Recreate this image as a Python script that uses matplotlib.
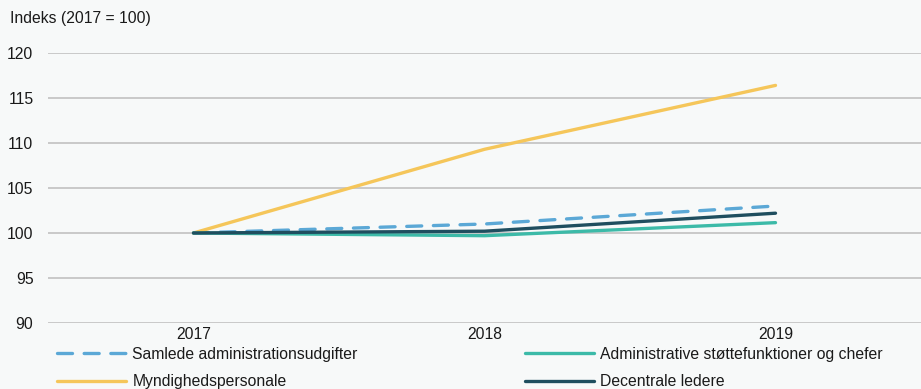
import matplotlib.pyplot as plt

plt.rcParams['font.family'] = ['Liberation Sans', 'DejaVu Sans']

years = ['2017', '2018', '2019']
samlede = [100.0, 101.0, 103.0]
myndighed = [100.0, 109.3, 116.4]
admin_stotte = [100.0, 99.7, 101.15]
decentrale = [100.0, 100.2, 102.2]

bg = '#f7f9f9'
fs = 11.3
fig = plt.figure(figsize=[9.21, 3.89], dpi=100, facecolor=bg)
ax = fig.add_axes([48/921, 66/389, 873/921, 270/389], facecolor=bg)

x = range(len(years))
l1, = ax.plot(x, samlede, color='#5ba8d6', lw=2.4, dashes=(4.5, 3.5),
              dash_capstyle='round', solid_capstyle='round')
l2, = ax.plot(x, myndighed, color='#f5c65a', lw=2.4, solid_capstyle='round')
l3, = ax.plot(x, admin_stotte, color='#3cbaa8', lw=2.4, solid_capstyle='round')
l4, = ax.plot(x, decentrale, color='#1f4e5f', lw=2.4, solid_capstyle='round')

ax.set_xlim(-0.5, 2.5)
ax.set_ylim(90, 120)
ax.set_xticks(list(x))
ax.set_xticklabels(years)
ax.set_yticks([90, 95, 100, 105, 110, 115, 120])
ax.yaxis.grid(True, color='#c6c6c6', lw=1.3)
ax.set_axisbelow(True)
for s in ax.spines.values():
    s.set_visible(False)
ax.tick_params(axis='both', length=0, labelsize=fs, colors='#1a1a1a')
ax.tick_params(axis='y', pad=10.5)
ax.tick_params(axis='x', pad=3)

fig.text(10/921, 1 - 18/389, 'Indeks (2017 = 100)', fontsize=fs,
         va='center', ha='left', color='#1a1a1a')

kw = dict(frameon=False, fontsize=fs, handlelength=4.4, handletextpad=0.4,
          labelspacing=0.8, borderpad=0, borderaxespad=0, loc='upper left')
leg1 = fig.legend([l1, l2], ['Samlede administrationsudgifter', 'Myndighedspersonale'],
                  bbox_to_anchor=(57/921, 1 - 346.5/389), **kw)
leg2 = fig.legend([l3, l4], ['Administrative støttefunktioner og chefer', 'Decentrale ledere'],
                  bbox_to_anchor=(525/921, 1 - 346.5/389), **kw)
for leg in (leg1, leg2):
    for t in leg.get_texts():
        t.set_color('#1a1a1a')

fig.savefig('out.png', dpi=100, facecolor=bg)
